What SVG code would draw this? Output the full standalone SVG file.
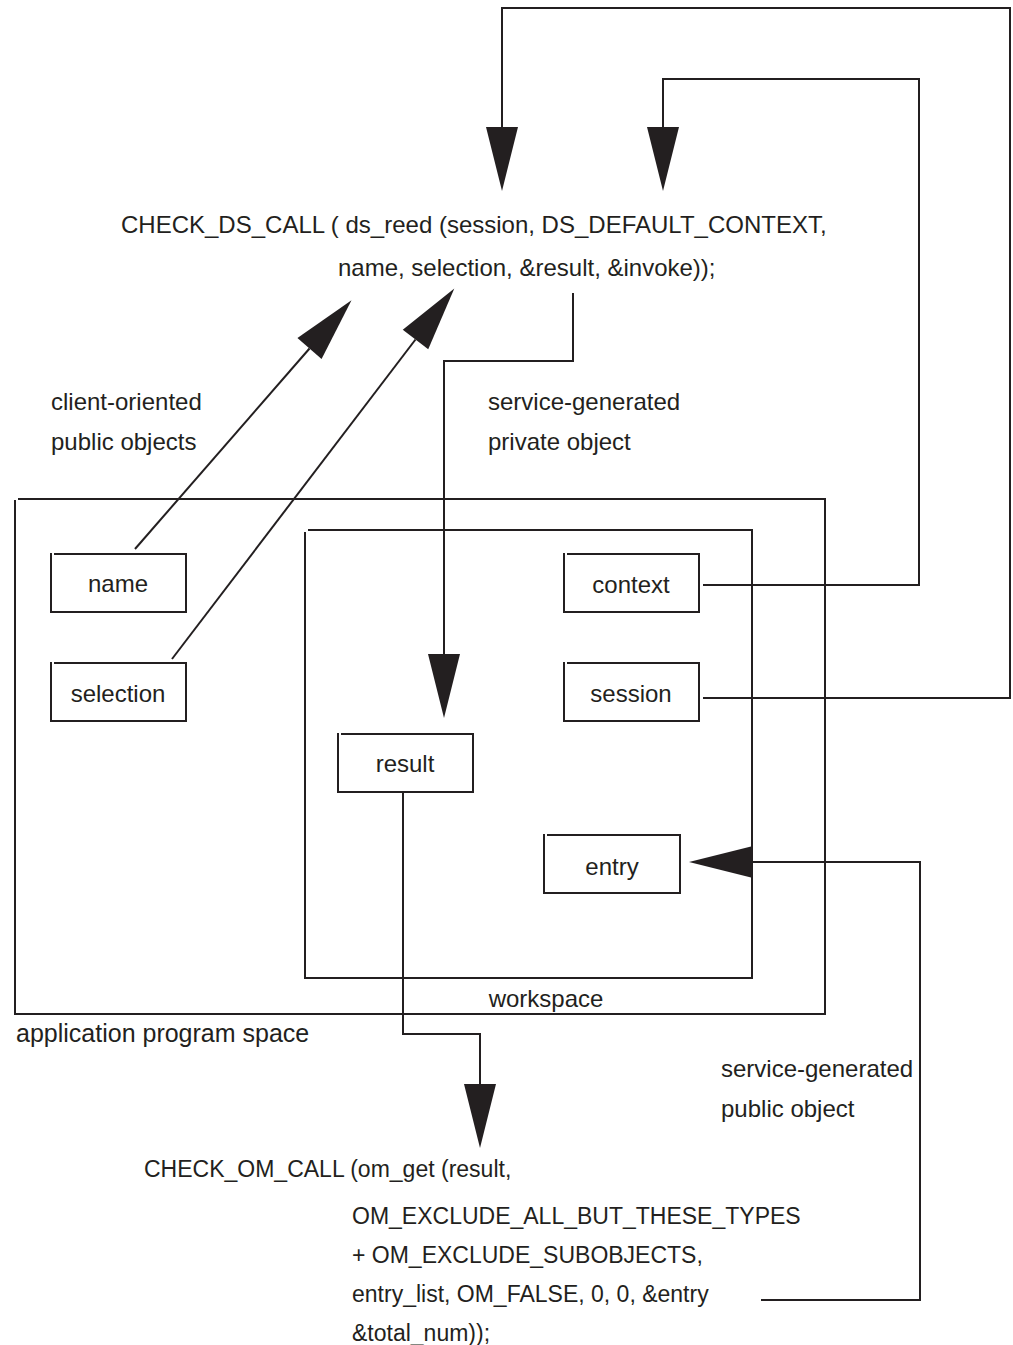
<svg xmlns="http://www.w3.org/2000/svg" width="1013" height="1345" viewBox="0 0 1013 1345">
  <style>
    .frame { fill: none; stroke: #231f20; stroke-width: 2; }
    .wire { fill: none; stroke: #231f20; stroke-width: 2; }
    text { font-family: "Liberation Sans", Arial, sans-serif; font-size: 24px; fill: #231f20; }
    .mid { text-anchor: middle; }
    .code-small { font-size: 23px; }
  </style>
  <defs>
    <marker id="head" markerUnits="userSpaceOnUse" viewBox="0 0 64 32" markerWidth="64" markerHeight="32" refX="0" refY="16" orient="auto" overflow="visible">
      <path d="M0,0 L64,16 L0,32 Z" fill="#231f20"/>
    </marker>
  </defs>

  <rect width="1013" height="1345" fill="#ffffff"/>

  <!-- call statements -->
  <g id="ds-call">
    <text x="121" y="233">CHECK_DS_CALL ( ds_reed (session, DS_DEFAULT_CONTEXT,</text>
    <text x="338" y="276">name, selection, &amp;result, &amp;invoke));</text>
  </g>
  <g id="om-call" class="code-small">
    <text class="code-small" x="144" y="1177">CHECK_OM_CALL (om_get (result,</text>
    <text class="code-small" x="352" y="1224">OM_EXCLUDE_ALL_BUT_THESE_TYPES</text>
    <text class="code-small" x="352" y="1263">+ OM_EXCLUDE_SUBOBJECTS,</text>
    <text class="code-small" x="352" y="1302">entry_list, OM_FALSE, 0, 0, &amp;entry</text>
    <text class="code-small" x="352" y="1341">&amp;total_num));</text>
  </g>

  <!-- annotations -->
  <g id="note-client">
    <text x="51" y="410">client-oriented</text>
    <text x="51" y="450">public objects</text>
  </g>
  <g id="note-private">
    <text x="488" y="410">service-generated</text>
    <text x="488" y="450">private object</text>
  </g>
  <g id="note-public">
    <text x="721" y="1077">service-generated</text>
    <text x="721" y="1117">public object</text>
  </g>

  <!-- spaces -->
  <g id="application-space">
    <path class="frame" d="M18,499 H825 V1014 H15 V500"/>
    <text x="16" y="1042" style="font-size:25px">application program space</text>
  </g>
  <g id="workspace">
    <path class="frame" d="M308,530 H752 V978 H305 V532"/>
    <text class="mid" x="546" y="1007">workspace</text>
  </g>

  <!-- objects -->
  <g id="name">
    <path class="frame" d="M54,554 H186 V612 H51 V553"/>
    <text class="mid" x="118" y="592">name</text>
  </g>
  <g id="selection">
    <path class="frame" d="M54,663 H186 V721 H51 V662"/>
    <text class="mid" x="118" y="702">selection</text>
  </g>
  <g id="context">
    <path class="frame" d="M567,554 H699 V612 H564 V553"/>
    <text class="mid" x="631" y="593">context</text>
  </g>
  <g id="session">
    <path class="frame" d="M567,663 H699 V721 H564 V662"/>
    <text class="mid" x="631" y="702">session</text>
  </g>
  <g id="result">
    <path class="frame" d="M341,734 H473 V792 H338 V733"/>
    <text class="mid" x="405" y="772">result</text>
  </g>
  <g id="entry">
    <path class="frame" d="M547,835 H680 V893 H544 V834"/>
    <text class="mid" x="612" y="875">entry</text>
  </g>

  <!-- connectors -->
  <g id="connectors">
    <path class="wire" d="M703,698 H1010 V8 H502 V127" marker-end="url(#head)"/>
    <path class="wire" d="M703,585 H919 V79 H663 V127" marker-end="url(#head)"/>
    <path class="wire" d="M135,549 L309.5,348.5" marker-end="url(#head)"/>
    <path class="wire" d="M172,659 L415.5,339.5" marker-end="url(#head)"/>
    <path class="wire" d="M573,293 V361 H444 V654" marker-end="url(#head)"/>
    <path class="wire" d="M403,793 V1034 H480 V1084" marker-end="url(#head)"/>
    <path class="wire" d="M761,1300 H920 V862 H753" marker-end="url(#head)"/>
  </g>
</svg>
